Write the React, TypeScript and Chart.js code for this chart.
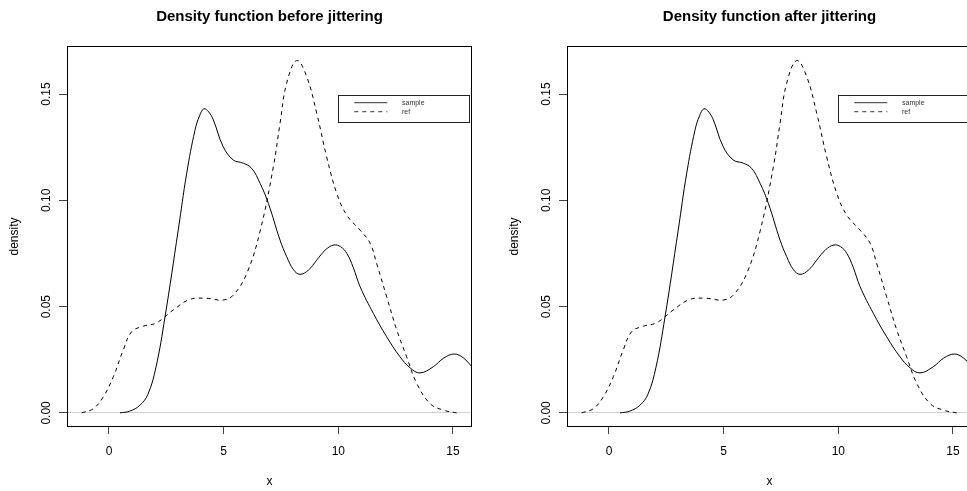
import React, { useEffect, useRef } from 'react';
import { Chart, registerables } from 'chart.js';

Chart.register(...registerables);

// ---- data ----
const sampleX = [0.48, 0.9, 1.35, 1.7, 2.05, 2.44, 3.02, 3.39, 3.75, 3.95, 4.14, 4.35, 4.55, 4.98, 5.42, 5.86, 6.22, 6.59, 6.95, 7.46, 7.75, 8.05, 8.33, 8.7, 9.06, 9.45, 9.81, 10.1, 10.37, 10.65, 10.95, 11.53, 12.11, 12.69, 13.13, 13.56, 14.14, 14.6, 15.06, 15.45, 15.83, 16.2];
const sampleY = [0.0, 0.0008, 0.0036, 0.0088, 0.0215, 0.0449, 0.086, 0.1128, 0.133, 0.1398, 0.1431, 0.1416, 0.1379, 0.1253, 0.119, 0.1175, 0.1151, 0.108, 0.0986, 0.0813, 0.0735, 0.0673, 0.0652, 0.0672, 0.0719, 0.0768, 0.079, 0.0782, 0.0751, 0.0685, 0.0594, 0.0468, 0.0358, 0.0264, 0.0212, 0.0188, 0.0217, 0.0258, 0.0277, 0.0259, 0.0217, 0.018];

const refX = [-1.19, -0.68, -0.25, 0.19, 0.62, 0.99, 1.5, 2.08, 2.8, 3.53, 4.26, 4.98, 5.42, 6.01, 6.59, 7.17, 7.46, 7.75, 8.19, 8.62, 9.06, 9.49, 9.93, 10.37, 10.95, 11.38, 11.67, 12.11, 12.55, 12.98, 13.42, 14.0, 14.58, 15.16];
const refY = [0.0, 0.002, 0.0075, 0.017, 0.0295, 0.0382, 0.0408, 0.0424, 0.0484, 0.0534, 0.0539, 0.0531, 0.0554, 0.0657, 0.0855, 0.1159, 0.1363, 0.1552, 0.1658, 0.1583, 0.141, 0.1206, 0.1034, 0.093, 0.086, 0.08, 0.0704, 0.0546, 0.039, 0.0264, 0.0139, 0.0044, 0.0013, 0.0];

const xTicks = [0, 5, 10, 15];
const xTickLabels = ['0', '5', '10', '15'];
const yTicks = [0, 0.05, 0.1, 0.15];
const yTickLabels = ['0.00', '0.05', '0.10', '0.15'];
const xRange = [-1.83, 15.83];
const yRange = [-0.00664, 0.17264];
const panelTitles = ['Density function before jittering', 'Density function after jittering'];
const seriesNames = ['sample', 'ref'];
const baselineValue = 0;

const FONT = '"Liberation Sans", Arial, Helvetica, sans-serif';

const rPlot = {
  id: 'rPlot',
  beforeDatasetsDraw(chart: any) {
    const { ctx, chartArea: a, scales } = chart;
    const py = Math.floor(scales.y.getPixelForValue(baselineValue)) + 0.5;
    ctx.save();
    ctx.strokeStyle = '#d0d0d0';
    ctx.lineWidth = 1;
    ctx.beginPath();
    ctx.moveTo(a.left, py);
    ctx.lineTo(a.right, py);
    ctx.stroke();
    ctx.restore();
  },
  afterDraw(chart: any) {
    const { ctx, chartArea: a, scales } = chart;
    ctx.save();
    // plot box
    ctx.strokeStyle = '#000';
    ctx.lineWidth = 1;
    ctx.setLineDash([]);
    ctx.strokeRect(a.left + 0.5, a.top + 0.5, a.right - a.left - 1, a.bottom - a.top - 1);

    // rotated y tick labels
    ctx.fillStyle = '#000';
    ctx.font = `12px ${FONT}`;
    ctx.textAlign = 'center';
    ctx.textBaseline = 'alphabetic';
    yTicks.forEach((v, i) => {
      const py = scales.y.getPixelForValue(v);
      ctx.save();
      ctx.translate(a.left - 17, py);
      ctx.rotate(-Math.PI / 2);
      ctx.fillText(yTickLabels[i], 0, 0);
      ctx.restore();
    });

    // legend
    const bx = a.right - 134;
    const by = a.top + 49;
    const bw = 131;
    const bh = 27;
    ctx.strokeStyle = '#222';
    ctx.strokeRect(bx + 0.5, by + 0.5, bw, bh);
    const rows = [by + 7.7, by + 16.7];
    chart.data.datasets.forEach((ds: any, i: number) => {
      ctx.beginPath();
      ctx.strokeStyle = '#333';
      ctx.lineWidth = 1;
      ctx.setLineDash(ds.borderDash || []);
      ctx.moveTo(bx + 16.3, rows[i]);
      ctx.lineTo(bx + 49.3, rows[i]);
      ctx.stroke();
      ctx.setLineDash([]);
      ctx.fillStyle = '#333';
      ctx.font = `7px ${FONT}`;
      ctx.textAlign = 'left';
      ctx.textBaseline = 'middle';
      ctx.fillText(ds.label, bx + 64, rows[i]);
    });
    ctx.restore();
  },
};

function makeConfig(title: string): any {
  return {
    type: 'scatter',
    data: {
      datasets: [
        {
          label: seriesNames[0],
          data: sampleX.map((x, i) => ({ x, y: sampleY[i] })),
          showLine: true,
          borderColor: '#000',
          borderWidth: 1,
          pointRadius: 0,
          tension: 0.4,
          fill: false,
        },
        {
          label: seriesNames[1],
          data: refX.map((x, i) => ({ x, y: refY[i] })),
          showLine: true,
          borderColor: '#000',
          borderWidth: 1,
          borderDash: [4, 4],
          pointRadius: 0,
          tension: 0.4,
          fill: false,
        },
      ],
    },
    options: {
      animation: false,
      responsive: false,
      maintainAspectRatio: false,
      devicePixelRatio: 1,
      layout: { padding: { left: 0, right: 28, top: 0, bottom: 0 } },
      plugins: {
        legend: { display: false },
        tooltip: { enabled: false },
        title: {
          display: true,
          text: title,
          fullSize: false,
          color: '#000',
          font: { family: FONT, size: 15, weight: 'bold' },
          padding: { top: 8, bottom: 20 },
        },
      },
      scales: {
        x: {
          type: 'linear',
          min: xRange[0],
          max: xRange[1],
          afterBuildTicks: (s: any) => {
            s.ticks = xTicks.map((v) => ({ value: v }));
          },
          afterFit: (s: any) => {
            s.height = 64;
          },
          grid: { drawOnChartArea: false, drawTicks: true, tickLength: 7, color: '#444' },
          border: { display: false },
          ticks: {
            color: '#000',
            font: { family: FONT, size: 12 },
            padding: 10,
            maxRotation: 0,
            autoSkip: false,
            callback: (_v: any, i: number) => xTickLabels[i],
          },
          title: {
            display: true,
            text: 'x',
            color: '#000',
            font: { family: FONT, size: 12 },
            padding: { top: 0, bottom: 2.5 },
          },
        },
        y: {
          type: 'linear',
          min: yRange[0],
          max: yRange[1],
          afterBuildTicks: (s: any) => {
            s.ticks = yTicks.map((v) => ({ value: v }));
          },
          afterFit: (s: any) => {
            s.width = 67;
          },
          grid: { drawOnChartArea: false, drawTicks: true, tickLength: 8, color: '#444' },
          border: { display: false },
          ticks: { display: false },
          title: {
            display: true,
            text: 'density',
            color: '#000',
            font: { family: FONT, size: 12 },
            padding: { top: 7, bottom: 0 },
          },
        },
      },
    },
    plugins: [rPlot],
  };
}

function Panel({ title, left }: { title: string; left: number }) {
  const ref = useRef<HTMLCanvasElement | null>(null);
  useEffect(() => {
    if (!ref.current) return;
    const chart = new Chart(ref.current, makeConfig(title));
    return () => chart.destroy();
  }, [title]);
  return (
    <div style={{ position: 'absolute', left, top: 0, width: 500, height: 491 }}>
      <canvas ref={ref} width={500} height={491} style={{ width: 500, height: 491, display: 'block' }} />
    </div>
  );
}

export default function App() {
  return (
    <div
      style={{
        position: 'fixed',
        left: 0,
        top: 0,
        width: 967,
        height: 491,
        overflow: 'hidden',
        background: '#fff',
      }}
    >
      <Panel title={panelTitles[0]} left={0} />
      <Panel title={panelTitles[1]} left={500} />
    </div>
  );
}
